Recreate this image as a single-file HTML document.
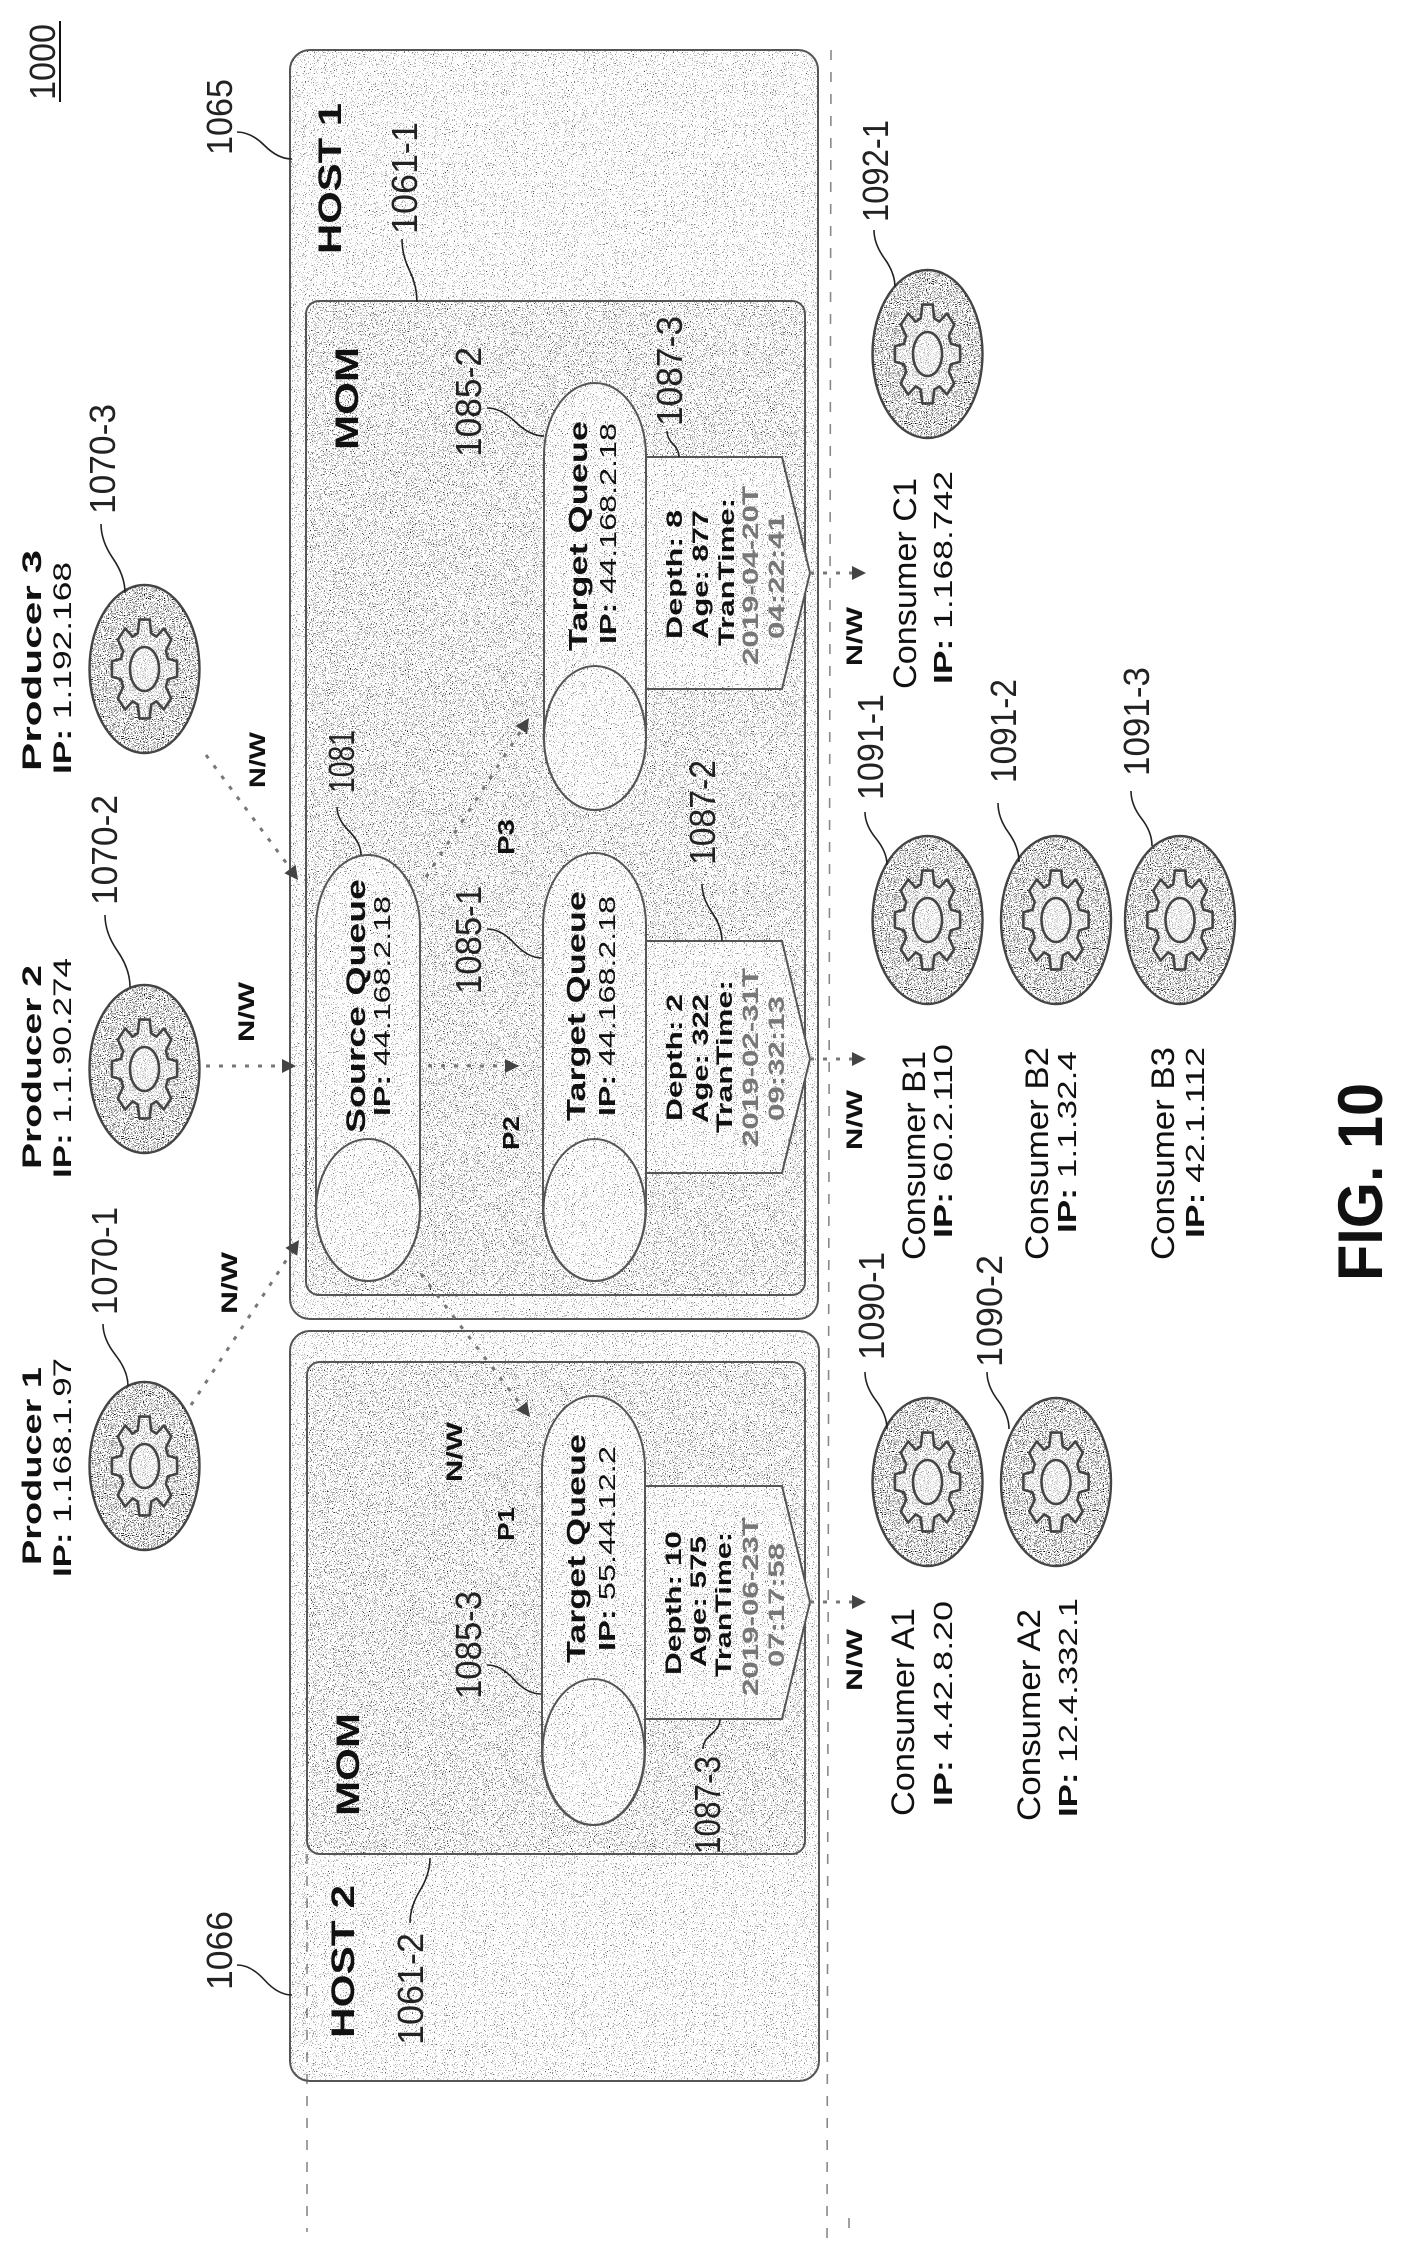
<!DOCTYPE html>
<html><head><meta charset="utf-8"><style>
html,body{margin:0;padding:0;background:#fff}
svg{display:block}
text{font-family:"Liberation Sans",sans-serif;fill:#111}
.b{font-weight:bold}
.r{font-size:36px;fill:#222}
.g{fill:#777;font-weight:bold}
.ld{fill:none;stroke:#222;stroke-width:1.6}
.ol{fill:none;stroke:#555;stroke-width:2}
.w{fill:#fff}
.k{fill:#000}
.ar{fill:none;stroke:#777;stroke-width:3;stroke-dasharray:4 9}
.ah{fill:#444}
.dl{fill:none;stroke:#888;stroke-width:1.6;stroke-dasharray:10 12}
</style></head><body>
<svg xmlns="http://www.w3.org/2000/svg" width="1402" height="2263" viewBox="0 0 1402 2263">
<defs>
<filter id="n1" x="0" y="0" width="100%" height="100%" color-interpolation-filters="sRGB"><feTurbulence type="fractalNoise" baseFrequency="0.95" numOctaves="1" seed="3"/><feColorMatrix values="0 0 0 0 0 0 0 0 0 0 0 0 0 0 0 14 0 0 0 -9.1"/><feComposite in2="SourceAlpha" operator="in"/></filter>
<filter id="n2" x="0" y="0" width="100%" height="100%" color-interpolation-filters="sRGB"><feTurbulence type="fractalNoise" baseFrequency="0.95" numOctaves="1" seed="7"/><feColorMatrix values="0 0 0 0 0 0 0 0 0 0 0 0 0 0 0 14 0 0 0 -8.5"/><feComposite in2="SourceAlpha" operator="in"/></filter>
<filter id="n3" x="0" y="0" width="100%" height="100%" color-interpolation-filters="sRGB"><feTurbulence type="fractalNoise" baseFrequency="0.95" numOctaves="1" seed="11"/><feColorMatrix values="0 0 0 0 0 0 0 0 0 0 0 0 0 0 0 14 0 0 0 -8.0"/><feComposite in2="SourceAlpha" operator="in"/></filter>
<g id="gear"><path d="M71.1-20.4L98.8-15.6L98.8 15.6L71.1 20.4L64.7 35.9L80.9 58.8L58.8 80.9L35.9 64.7L20.4 71.1L15.6 98.8L-15.6 98.8L-20.4 71.1L-35.9 64.7L-58.8 80.9L-80.9 58.8L-64.7 35.9L-71.1 20.4L-98.8 15.6L-98.8-15.6L-71.1-20.4L-64.7-35.9L-80.9-58.8L-58.8-80.9L-35.9-64.7L-20.4-71.1L-15.6-98.8L15.6-98.8L20.4-71.1L35.9-64.7L58.8-80.9L80.9-58.8L64.7-35.9Z" fill="#fff" fill-opacity=".4" stroke="#444" stroke-width="2.6" stroke-linejoin="round" vector-effect="non-scaling-stroke"/><circle r="44" fill="#fff" fill-opacity=".3" stroke="#444" stroke-width="2.6" vector-effect="non-scaling-stroke"/></g>
<g id="svc"><ellipse rx="55" ry="84" fill="#fff"/><ellipse rx="55" ry="84" class="k" filter="url(#n3)"/><ellipse rx="55" ry="84" fill="none" stroke="#444" stroke-width="2.4"/><use href="#gear" transform="scale(.33,.5)"/></g>
</defs>
<rect width="1402" height="2263" fill="#fff"/>

<path class="dl" d="M831 50L827 2246M307 1854V2232M849 2218V2232"/>

<!-- hosts -->
<rect x="290" y="50" width="528" height="1269" rx="20" class="k" filter="url(#n1)"/>
<rect x="290" y="50" width="528" height="1269" rx="20" class="ol"/>
<rect x="290" y="1331" width="529" height="750" rx="20" class="k" filter="url(#n1)"/>
<rect x="290" y="1331" width="529" height="750" rx="20" class="ol"/>

<!-- MOM -->
<rect x="306" y="301" width="499" height="994" rx="13" class="w"/>
<rect x="306" y="301" width="499" height="994" rx="13" class="k" filter="url(#n2)"/>
<rect x="306" y="301" width="499" height="994" rx="13" class="ol"/>
<rect x="307" y="1362" width="498" height="492" rx="13" class="w"/>
<rect x="307" y="1362" width="498" height="492" rx="13" class="k" filter="url(#n2)"/>
<rect x="307" y="1362" width="498" height="492" rx="13" class="ol"/>

<!-- pentagons -->
<path d="M646 457H782L810 573L782 689H646Z" class="w"/><path d="M646 457H782L810 573L782 689H646Z" class="k" filter="url(#n1)"/><path d="M646 457H782L810 573L782 689H646Z" class="ol"/>
<path d="M646 941H782L810 1059L782 1173H646Z" class="w"/><path d="M646 941H782L810 1059L782 1173H646Z" class="k" filter="url(#n1)"/><path d="M646 941H782L810 1059L782 1173H646Z" class="ol"/>
<path d="M645 1486H782L810 1602L782 1719H645Z" class="w"/><path d="M645 1486H782L810 1602L782 1719H645Z" class="k" filter="url(#n1)"/><path d="M645 1486H782L810 1602L782 1719H645Z" class="ol"/>

<!-- queues -->
<rect x="544" y="383" width="102" height="427" rx="51" ry="72" class="w"/><rect x="544" y="383" width="102" height="427" rx="51" ry="72" class="k" filter="url(#n1)"/><rect x="544" y="383" width="102" height="427" rx="51" ry="72" class="ol"/>
<ellipse cx="595" cy="738" rx="51" ry="72" class="ol"/>
<rect x="543" y="853" width="103" height="428" rx="51" ry="72" class="w"/><rect x="543" y="853" width="103" height="428" rx="51" ry="72" class="k" filter="url(#n1)"/><rect x="543" y="853" width="103" height="428" rx="51" ry="72" class="ol"/>
<ellipse cx="594.500" cy="1210" rx="51" ry="71" class="ol"/>
<rect x="316" y="855" width="104" height="426" rx="52" ry="72" class="w"/><rect x="316" y="855" width="104" height="426" rx="52" ry="72" class="k" filter="url(#n1)"/><rect x="316" y="855" width="104" height="426" rx="52" ry="72" class="ol"/>
<ellipse cx="368" cy="1210" rx="52" ry="71" class="ol"/>
<rect x="542" y="1396" width="103" height="429" rx="51" ry="72" class="w"/><rect x="542" y="1396" width="103" height="429" rx="51" ry="72" class="k" filter="url(#n1)"/><rect x="542" y="1396" width="103" height="429" rx="51" ry="72" class="ol"/>
<ellipse cx="593.500" cy="1752" rx="51" ry="73" class="ol"/>

<!-- service nodes -->
<use href="#svc" x="144.500" y="669"/>
<use href="#svc" x="144.500" y="1069"/>
<use href="#svc" x="144.500" y="1466"/>
<use href="#svc" x="927.500" y="354"/>
<use href="#svc" x="927.500" y="920"/>
<use href="#svc" x="1056" y="920"/>
<use href="#svc" x="1180" y="920"/>
<use href="#svc" x="927.500" y="1482"/>
<use href="#svc" x="1056" y="1482"/>

<!-- arrows -->
<path class="ar" d="M206 755L293 872M206 1066H284M191 1405L293 1250M426 877L522 729M428 1066H507M421 1274L524 1409M810 573H854M810 1059H854M810 1602H854"/>
<path class="ah" d="M298 880L295.6 864.800L284.400 873.200ZM296 1066L282 1059V1073ZM299 1240L297.200 1255.700L285.400 1247.900ZM529 718L527.300 733.600L515.500 726ZM519 1066L505 1059V1073ZM530 1417L527.200 1401.600L516 1410ZM866 573L852 566V580ZM866 1059L852 1052V1066ZM866 1602L852 1595V1609Z"/>

<!-- leaders -->
<path class="ld" d="M237 132Q251 132 264.500 145.500T292 159M237 1965Q251 1965 264.500 1980T292 1995M487 408Q501 408 515.500 422T544 436M487 929Q501 929 514.500 943.500T542 958M487 1665Q501 1665 514 1679.500T541 1694M402 239Q402 255 409.500 270.500T417 302M667 431Q667 438 673 444T679 457M874 230Q874 244 884.500 258.500T895 287M101 524Q101 541 113 558.500T125 593M105 915Q105 933 117.500 951T130 987M103 1324Q103 1339 115.500 1355T128 1386M337 807Q337 819 349 831T361 855M702 884Q702 898 712 912.500T722 941M865 812Q865 825 876 838.500T887 865M998 803Q998 818 1008.500 832.500T1019 862M1131 791Q1131 805 1141.500 818.500T1152 846M865 1372Q865 1386 876 1400.500T887 1429M987 1372Q987 1386 998 1400.500T1009 1429M703 1749Q703 1741 711.500 1734T720 1719M410 1923Q410 1907 420 1890.500T430 1858"/>
<path d="M60 21V102" stroke="#111" stroke-width="2"/>

<!-- reference labels -->
<text x="55" y="100" transform="rotate(-90 55 100)" textLength="76" lengthAdjust="spacingAndGlyphs" class="r">1000</text>
<text x="232" y="155" transform="rotate(-90 232 155)" textLength="76" lengthAdjust="spacingAndGlyphs" class="r">1065</text>
<text x="417" y="234" transform="rotate(-90 417 234)" textLength="112" lengthAdjust="spacingAndGlyphs" class="r">1061-1</text>
<text x="481" y="457" transform="rotate(-90 481 457)" textLength="110" lengthAdjust="spacingAndGlyphs" class="r">1085-2</text>
<text x="682" y="426" transform="rotate(-90 682 426)" textLength="110" lengthAdjust="spacingAndGlyphs" class="r">1087-3</text>
<text x="888" y="222" transform="rotate(-90 888 222)" textLength="102" lengthAdjust="spacingAndGlyphs" class="r">1092-1</text>
<text x="115" y="514" transform="rotate(-90 115 514)" textLength="110" lengthAdjust="spacingAndGlyphs" class="r">1070-3</text>
<text x="117" y="905" transform="rotate(-90 117 905)" textLength="110" lengthAdjust="spacingAndGlyphs" class="r">1070-2</text>
<text x="117" y="1315" transform="rotate(-90 117 1315)" textLength="108" lengthAdjust="spacingAndGlyphs" class="r">1070-1</text>
<text x="354" y="793" transform="rotate(-90 354 793)" textLength="63" lengthAdjust="spacingAndGlyphs" class="r">1081</text>
<text x="715" y="865" transform="rotate(-90 715 865)" textLength="105" lengthAdjust="spacingAndGlyphs" class="r">1087-2</text>
<text x="481" y="994" transform="rotate(-90 481 994)" textLength="108" lengthAdjust="spacingAndGlyphs" class="r">1085-1</text>
<text x="883" y="800" transform="rotate(-90 883 800)" textLength="106" lengthAdjust="spacingAndGlyphs" class="r">1091-1</text>
<text x="1016" y="783" transform="rotate(-90 1016 783)" textLength="104" lengthAdjust="spacingAndGlyphs" class="r">1091-2</text>
<text x="1149" y="776" transform="rotate(-90 1149 776)" textLength="109" lengthAdjust="spacingAndGlyphs" class="r">1091-3</text>
<text x="884" y="1360" transform="rotate(-90 884 1360)" textLength="108" lengthAdjust="spacingAndGlyphs" class="r">1090-1</text>
<text x="1002" y="1367" transform="rotate(-90 1002 1367)" textLength="112" lengthAdjust="spacingAndGlyphs" class="r">1090-2</text>
<text x="481" y="1699" transform="rotate(-90 481 1699)" textLength="108" lengthAdjust="spacingAndGlyphs" class="r">1085-3</text>
<text x="720" y="1854" transform="rotate(-90 720 1854)" textLength="98" lengthAdjust="spacingAndGlyphs" class="r">1087-3</text>
<text x="232" y="1990" transform="rotate(-90 232 1990)" textLength="79" lengthAdjust="spacingAndGlyphs" class="r">1066</text>
<text x="423" y="2045" transform="rotate(-90 423 2045)" textLength="112" lengthAdjust="spacingAndGlyphs" class="r">1061-2</text>

<!-- bold region labels -->
<text x="341" y="254" transform="rotate(-90 341 254)" textLength="151" lengthAdjust="spacingAndGlyphs" class="b" font-size="32">HOST 1</text>
<text x="354" y="2038" transform="rotate(-90 354 2038)" textLength="153" lengthAdjust="spacingAndGlyphs" class="b" font-size="32">HOST 2</text>
<text x="358" y="450" transform="rotate(-90 358 450)" textLength="103" lengthAdjust="spacingAndGlyphs" class="b" font-size="32">MOM</text>
<text x="359" y="1816" transform="rotate(-90 359 1816)" textLength="103" lengthAdjust="spacingAndGlyphs" class="b" font-size="32">MOM</text>
<text x="1382" y="1281" transform="rotate(-90 1382 1281)" textLength="198" lengthAdjust="spacingAndGlyphs" class="b" font-size="63">FIG. 10</text>

<!-- N/W, P labels -->
<text x="265" y="788" transform="rotate(-90 265 788)" textLength="56" lengthAdjust="spacingAndGlyphs" class="b" font-size="22">N/W</text>
<text x="254" y="1042" transform="rotate(-90 254 1042)" textLength="60" lengthAdjust="spacingAndGlyphs" class="b" font-size="22">N/W</text>
<text x="237" y="1314" transform="rotate(-90 237 1314)" textLength="62" lengthAdjust="spacingAndGlyphs" class="b" font-size="22">N/W</text>
<text x="462" y="1482" transform="rotate(-90 462 1482)" textLength="60" lengthAdjust="spacingAndGlyphs" class="b" font-size="22">N/W</text>
<text x="862" y="666" transform="rotate(-90 862 666)" textLength="59" lengthAdjust="spacingAndGlyphs" class="b" font-size="22">N/W</text>
<text x="862" y="1150" transform="rotate(-90 862 1150)" textLength="60" lengthAdjust="spacingAndGlyphs" class="b" font-size="22">N/W</text>
<text x="862" y="1691" transform="rotate(-90 862 1691)" textLength="62" lengthAdjust="spacingAndGlyphs" class="b" font-size="22">N/W</text>
<text x="514" y="855" transform="rotate(-90 514 855)" textLength="36" lengthAdjust="spacingAndGlyphs" class="b" font-size="23">P3</text>
<text x="519" y="1150" transform="rotate(-90 519 1150)" textLength="34" lengthAdjust="spacingAndGlyphs" class="b" font-size="23">P2</text>
<text x="514" y="1541" transform="rotate(-90 514 1541)" textLength="34" lengthAdjust="spacingAndGlyphs" class="b" font-size="23">P1</text>

<!-- producers -->
<text x="41" y="771" transform="rotate(-90 41 771)" textLength="221" lengthAdjust="spacingAndGlyphs" class="b" font-size="27">Producer 3</text>
<text x="71" y="774" transform="rotate(-90 71 774)" textLength="212" lengthAdjust="spacingAndGlyphs" font-size="25"><tspan class="b">IP:</tspan> 1.192.168</text>
<text x="41" y="1169" transform="rotate(-90 41 1169)" textLength="204" lengthAdjust="spacingAndGlyphs" class="b" font-size="27">Producer 2</text>
<text x="71" y="1178" transform="rotate(-90 71 1178)" textLength="220" lengthAdjust="spacingAndGlyphs" font-size="25"><tspan class="b">IP:</tspan> 1.1.90.274</text>
<text x="41" y="1565" transform="rotate(-90 41 1565)" textLength="198" lengthAdjust="spacingAndGlyphs" class="b" font-size="27">Producer 1</text>
<text x="71" y="1577" transform="rotate(-90 71 1577)" textLength="219" lengthAdjust="spacingAndGlyphs" font-size="25"><tspan class="b">IP:</tspan> 1.168.1.97</text>

<!-- consumers -->
<text x="916" y="689" transform="rotate(-90 916 689)" textLength="211" lengthAdjust="spacingAndGlyphs" font-size="32">Consumer C1</text>
<text x="952" y="684" transform="rotate(-90 952 684)" textLength="213" lengthAdjust="spacingAndGlyphs" font-size="26"><tspan class="b">IP:</tspan> 1.168.742</text>
<text x="925" y="1260" transform="rotate(-90 925 1260)" textLength="209" lengthAdjust="spacingAndGlyphs" font-size="32">Consumer B1</text>
<text x="952" y="1238" transform="rotate(-90 952 1238)" textLength="194" lengthAdjust="spacingAndGlyphs" font-size="26"><tspan class="b">IP:</tspan> 60.2.110</text>
<text x="1048" y="1260" transform="rotate(-90 1048 1260)" textLength="213" lengthAdjust="spacingAndGlyphs" font-size="32">Consumer B2</text>
<text x="1076" y="1233" transform="rotate(-90 1076 1233)" textLength="182" lengthAdjust="spacingAndGlyphs" font-size="26"><tspan class="b">IP:</tspan> 1.1.32.4</text>
<text x="1174" y="1260" transform="rotate(-90 1174 1260)" textLength="213" lengthAdjust="spacingAndGlyphs" font-size="32">Consumer B3</text>
<text x="1204" y="1238" transform="rotate(-90 1204 1238)" textLength="191" lengthAdjust="spacingAndGlyphs" font-size="26"><tspan class="b">IP:</tspan> 42.1.112</text>
<text x="914" y="1816" transform="rotate(-90 914 1816)" textLength="208" lengthAdjust="spacingAndGlyphs" font-size="32">Consumer A1</text>
<text x="952" y="1806" transform="rotate(-90 952 1806)" textLength="205" lengthAdjust="spacingAndGlyphs" font-size="26"><tspan class="b">IP:</tspan> 4.42.8.20</text>
<text x="1040" y="1821" transform="rotate(-90 1040 1821)" textLength="212" lengthAdjust="spacingAndGlyphs" font-size="32">Consumer A2</text>
<text x="1077" y="1817" transform="rotate(-90 1077 1817)" textLength="219" lengthAdjust="spacingAndGlyphs" font-size="26"><tspan class="b">IP:</tspan> 12.4.332.1</text>

<!-- queue labels -->
<text x="365" y="1133" transform="rotate(-90 365 1133)" textLength="254" lengthAdjust="spacingAndGlyphs" class="b" font-size="27">Source Queue</text>
<text x="390" y="1116" transform="rotate(-90 390 1116)" textLength="220" lengthAdjust="spacingAndGlyphs" font-size="23"><tspan class="b">IP:</tspan> 44.168.2.18</text>
<text x="587" y="651" transform="rotate(-90 587 651)" textLength="230" lengthAdjust="spacingAndGlyphs" class="b" font-size="26">Target Queue</text>
<text x="616" y="644" transform="rotate(-90 616 644)" textLength="221" lengthAdjust="spacingAndGlyphs" font-size="23"><tspan class="b">IP:</tspan> 44.168.2.18</text>
<text x="585" y="1121" transform="rotate(-90 585 1121)" textLength="230" lengthAdjust="spacingAndGlyphs" class="b" font-size="26">Target Queue</text>
<text x="615" y="1116" transform="rotate(-90 615 1116)" textLength="220" lengthAdjust="spacingAndGlyphs" font-size="23"><tspan class="b">IP:</tspan> 44.168.2.18</text>
<text x="585" y="1663" transform="rotate(-90 585 1663)" textLength="229" lengthAdjust="spacingAndGlyphs" class="b" font-size="26">Target Queue</text>
<text x="615" y="1651" transform="rotate(-90 615 1651)" textLength="205" lengthAdjust="spacingAndGlyphs" font-size="23"><tspan class="b">IP:</tspan> 55.44.12.2</text>

<!-- info 1 -->
<text x="682" y="639" transform="rotate(-90 682 639)" textLength="129" lengthAdjust="spacingAndGlyphs" class="b" font-size="22">Depth: 8</text>
<text x="708" y="639" transform="rotate(-90 708 639)" textLength="129" lengthAdjust="spacingAndGlyphs" class="b" font-size="22">Age: 877</text>
<text x="734" y="646" transform="rotate(-90 734 646)" textLength="148" lengthAdjust="spacingAndGlyphs" class="b" font-size="22">TranTime:</text>
<text x="758" y="665" transform="rotate(-90 758 665)" textLength="179" lengthAdjust="spacingAndGlyphs" class="g" font-size="22">2019-04-20T</text>
<text x="784" y="639" transform="rotate(-90 784 639)" textLength="125" lengthAdjust="spacingAndGlyphs" class="g" font-size="22">04:22:41</text>
<!-- info 2 -->
<text x="682" y="1121" transform="rotate(-90 682 1121)" textLength="127" lengthAdjust="spacingAndGlyphs" class="b" font-size="22">Depth: 2</text>
<text x="708" y="1123" transform="rotate(-90 708 1123)" textLength="129" lengthAdjust="spacingAndGlyphs" class="b" font-size="22">Age: 322</text>
<text x="732" y="1133" transform="rotate(-90 732 1133)" textLength="153" lengthAdjust="spacingAndGlyphs" class="b" font-size="22">TranTime:</text>
<text x="758" y="1147" transform="rotate(-90 758 1147)" textLength="179" lengthAdjust="spacingAndGlyphs" class="g" font-size="22">2019-02-31T</text>
<text x="784" y="1121" transform="rotate(-90 784 1121)" textLength="125" lengthAdjust="spacingAndGlyphs" class="g" font-size="22">09:32:13</text>
<!-- info 3 -->
<text x="681" y="1675" transform="rotate(-90 681 1675)" textLength="144" lengthAdjust="spacingAndGlyphs" class="b" font-size="22">Depth: 10</text>
<text x="706" y="1667" transform="rotate(-90 706 1667)" textLength="131" lengthAdjust="spacingAndGlyphs" class="b" font-size="22">Age: 575</text>
<text x="731" y="1677" transform="rotate(-90 731 1677)" textLength="145" lengthAdjust="spacingAndGlyphs" class="b" font-size="22">TranTime:</text>
<text x="758" y="1696" transform="rotate(-90 758 1696)" textLength="179" lengthAdjust="spacingAndGlyphs" class="g" font-size="22">2019-06-23T</text>
<text x="784" y="1667" transform="rotate(-90 784 1667)" textLength="124" lengthAdjust="spacingAndGlyphs" class="g" font-size="22">07:17:58</text>
</svg>
</body></html>
